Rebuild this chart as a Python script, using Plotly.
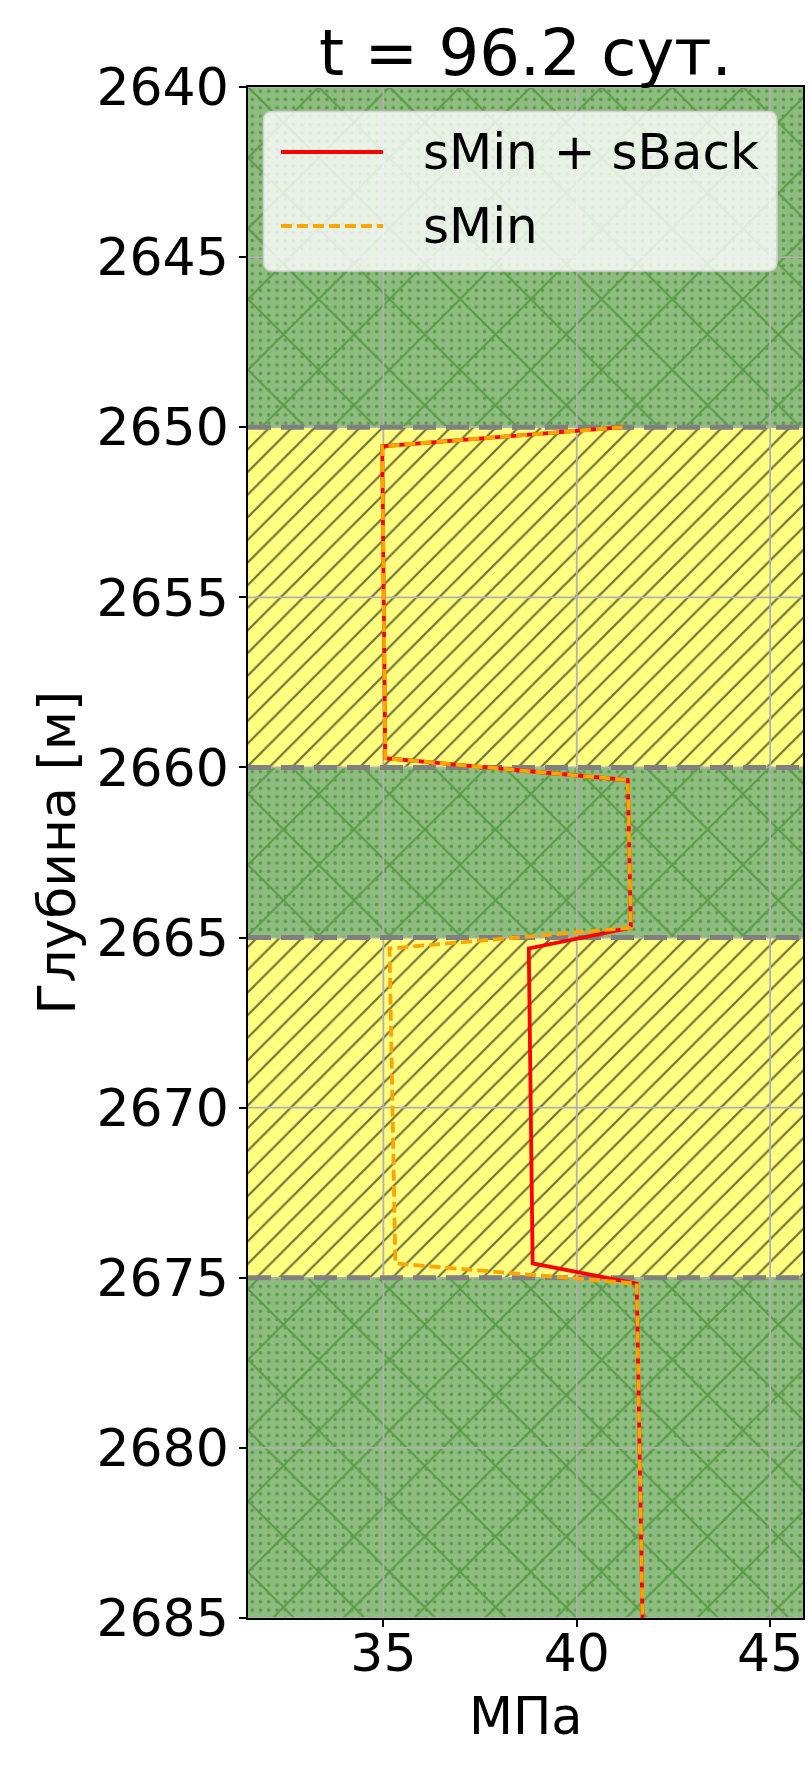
import plotly.graph_objects as go

# ---------------- data ----------------
title_text = "t = 96.2 сут."
x_label = "МПа"
y_label = "Глубина [м]"

layer_top = [2640, 2650, 2660, 2665, 2675]
layer_bottom = [2650, 2660, 2665, 2675, 2685]
layer_kind = ["green", "yellow", "green", "yellow", "green"]
boundaries = [2650, 2660, 2665, 2675]

depth_pts = [2650.0, 2650.56, 2659.73, 2660.37, 2664.71, 2665.32, 2674.58, 2675.17, 2685.0]
s_min_back = [41.19, 34.97, 35.05, 41.32, 41.40, 38.76, 38.86, 41.55, 41.70]
s_min = [41.19, 34.97, 35.05, 41.32, 41.40, 35.16, 35.31, 41.55, 41.70]

x_range = [31.5, 45.85]
y_range = [2685, 2640]
x_ticks = [35, 40, 45]
y_ticks = [2640, 2645, 2650, 2655, 2660, 2665, 2670, 2675, 2680, 2685]

# ---------------- styling ----------------
W, H = 812, 1765
L, R, T, B = 248, 9, 87, 147
FONT = "DejaVu Sans"
GREEN_BG = "#8fbc80"
GREEN_FG = "#5a9c48"
YELLOW_BG = "#ffff80"
YELLOW_FG = "#727238"

fig = go.Figure()

for kind in ["green", "yellow"]:
    ys = [(t + b) / 2 for t, b, k in zip(layer_top, layer_bottom, layer_kind) if k == kind]
    ws = [(b - t) for t, b, k in zip(layer_top, layer_bottom, layer_kind) if k == kind]
    lens = [x_range[1] - x_range[0]] * len(ys)
    bases = [x_range[0]] * len(ys)
    if kind == "green":
        fig.add_trace(go.Bar(
            orientation="h", y=ys, x=lens, base=bases, width=ws,
            marker=dict(color=GREEN_BG, line=dict(width=0),
                        pattern=dict(shape="x", fgcolor=GREEN_FG, bgcolor=GREEN_BG,
                                     size=50, solidity=0.08, fillmode="replace")),
            showlegend=False, hoverinfo="skip"))
        fig.add_trace(go.Bar(
            orientation="h", y=ys, x=lens, base=bases, width=ws,
            marker=dict(color="rgba(0,0,0,0)", line=dict(width=0),
                        pattern=dict(shape=".", fgcolor=GREEN_FG, bgcolor="rgba(0,0,0,0)",
                                     size=8.3, solidity=0.14, fillmode="replace")),
            showlegend=False, hoverinfo="skip"))
    else:
        fig.add_trace(go.Bar(
            orientation="h", y=ys, x=lens, base=bases, width=ws,
            marker=dict(color=YELLOW_BG, line=dict(width=0),
                        pattern=dict(shape="/", fgcolor=YELLOW_FG, bgcolor=YELLOW_BG,
                                     size=16, solidity=0.14, fillmode="replace")),
            showlegend=False, hoverinfo="skip"))

# grid lines drawn on top of the fills
gx, gy = [], []
for xv in x_ticks:
    gx += [xv, xv, None]
    gy += [y_range[0], y_range[1], None]
for yv in y_ticks:
    gx += [x_range[0], x_range[1], None]
    gy += [yv, yv, None]
fig.add_trace(go.Scatter(x=gx, y=gy, mode="lines", line=dict(color="#b0b0b0", width=1.8),
                         showlegend=False, hoverinfo="skip"))

# layer boundaries
bx, by = [], []
for yv in boundaries:
    bx += [x_range[0], x_range[1], None]
    by += [yv, yv, None]
fig.add_trace(go.Scatter(x=bx, y=by, mode="lines",
                         line=dict(color="#808080", width=5, dash="23px,10px"),
                         showlegend=False, hoverinfo="skip"))

LW = 3.8
fig.add_trace(go.Scatter(x=s_min_back, y=depth_pts, mode="lines", name="sMin + sBack",
                         line=dict(color="#ff0000", width=LW), showlegend=False))
fig.add_trace(go.Scatter(x=s_min, y=depth_pts, mode="lines", name="sMin",
                         line=dict(color="#ffa500", width=LW, dash="11px,5px"), showlegend=False))

# ---------- legend (drawn like matplotlib's) ----------
PW, PH = W - L - R, H - T - B
def px(xp):
    return (xp - L) / PW
def py(yp):
    return (H - B - yp) / PH

x0p, x1p, y0p, y1p = 263.5, 777, 111.5, 271
rad = 9
rx, ry = rad / PW, rad / PH
X0, X1, Yt, Yb = px(x0p), px(x1p), py(y0p), py(y1p)
path = (f"M {X0+rx},{Yt} L {X1-rx},{Yt} Q {X1},{Yt} {X1},{Yt-ry} "
        f"L {X1},{Yb+ry} Q {X1},{Yb} {X1-rx},{Yb} L {X0+rx},{Yb} Q {X0},{Yb} {X0},{Yb+ry} "
        f"L {X0},{Yt-ry} Q {X0},{Yt} {X0+rx},{Yt} Z")
fig.add_shape(type="path", xref="paper", yref="paper", path=path,
              fillcolor="rgba(255,255,255,0.8)", line=dict(color="#d0d0d0", width=1.5), layer="above")
legend_items = [("sMin + sBack", "#ff0000", "solid", 152), ("sMin", "#ffa500", "11px,5px", 226)]
for name, col, dash, yy in legend_items:
    fig.add_shape(type="line", xref="paper", yref="paper", x0=px(281), x1=px(383), y0=py(yy), y1=py(yy),
                  line=dict(color=col, width=LW, dash=dash), layer="above")
    fig.add_annotation(xref="paper", yref="paper", x=px(421), y=py(yy), text=name, showarrow=False,
                       xanchor="left", yanchor="middle", font=dict(family=FONT, size=50, color="black"))

# title and axis labels
fig.add_annotation(xref="paper", yref="paper", x=0.5, y=py(53), text=title_text, showarrow=False,
                   xanchor="center", yanchor="middle", font=dict(family=FONT, size=64, color="black"))
fig.add_annotation(xref="paper", yref="paper", x=0.5, y=py(1716), text=x_label, showarrow=False,
                   xanchor="center", yanchor="middle", font=dict(family=FONT, size=51, color="black"))
fig.add_annotation(xref="paper", yref="paper", x=px(56), y=0.5, text=y_label, showarrow=False, textangle=-90,
                   xanchor="center", yanchor="middle", font=dict(family=FONT, size=52, color="black"))

axis_common = dict(showgrid=False, zeroline=False, showline=True, mirror=True, linecolor="black",
                   linewidth=1.7, ticks="outside", ticklen=7, tickwidth=1.7, tickcolor="black",
                   tickfont=dict(family=FONT, size=52, color="black"))
fig.update_xaxes(range=x_range, tickvals=x_ticks, ticktext=[str(v) for v in x_ticks],
                 ticklabelstandoff=-18, **axis_common)
fig.update_yaxes(range=y_range, tickvals=y_ticks, ticktext=[str(v) for v in y_ticks], **axis_common)

fig.update_layout(width=W, height=H, margin=dict(l=L, r=R, t=T, b=B, autoexpand=False),
                  paper_bgcolor="white", plot_bgcolor="white", barmode="overlay", bargap=0,
                  showlegend=False, font=dict(family=FONT))

fig.write_html("out.html")
